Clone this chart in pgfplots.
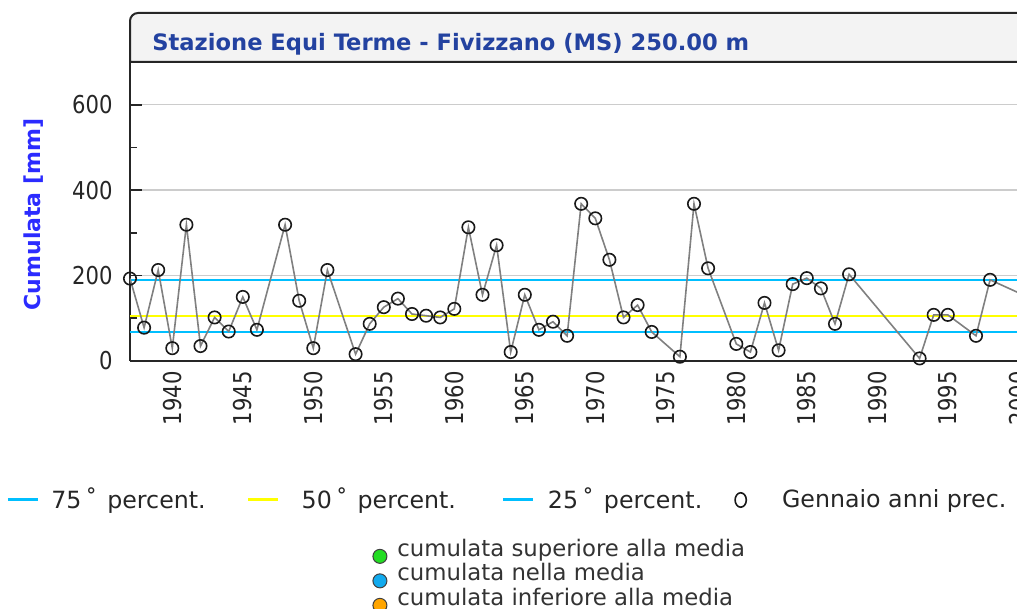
\documentclass[border=0pt]{standalone}
\usepackage{fontspec}
\usepackage{pgfplots}
\pgfplotsset{compat=1.18}
\setmainfont{DejaVu Sans}
\newfontfamily\tickfont{DejaVu Sans}[FakeStretch=0.86]
\definecolor{pcyan}{HTML}{00BFFF}
\definecolor{pyellow}{HTML}{FFFF00}
\definecolor{titleblue}{HTML}{2342A0}
\definecolor{labblue}{HTML}{2B2BFF}
\definecolor{boxgray}{HTML}{F3F3F3}
\definecolor{mgreen}{HTML}{22DD22}
\definecolor{mblue}{HTML}{11AAEE}
\definecolor{morange}{HTML}{FFA500}

\begin{document}
\begin{tikzpicture}
\useasboundingbox (0,0) rectangle (508.5pt,304.5pt);
\clip (0,0) rectangle (508.5pt,304.5pt);

\begin{axis}[
  at={(65pt,124pt)}, anchor=south west,
  scale only axis, width=514.65pt, height=149.5pt,
  xmin=1937, xmax=2010, ymin=0, ymax=700,
  axis x line=bottom, axis y line=left,
  axis line style={-, line width=1pt, black!85},
  xtick={1940,1945,...,2000},
  ytick={0,200,400,600}, minor ytick={100,300,500},
  tick align=inside,
  major tick length=6pt, minor tick length=3.5pt,
  xtick style={draw=none},
  ytick style={line width=0.8pt, black!85},
  ymajorgrids, grid style={line width=0.75pt, gray!40},
  tick label style={font=\tickfont\fontsize{12.3}{14}\selectfont, text=black!85},
  x tick label style={rotate=90, anchor=east, inner xsep=5pt, inner ysep=0pt},
  y tick label style={inner xsep=8.5pt, inner ysep=0pt},
  /pgf/number format/assume math mode=true,
  /pgf/number format/1000 sep={},
  ylabel={Cumulata [mm]},
  ylabel style={at={(axis description cs:-0.0874,0.49)}, anchor=base,
    font=\bfseries\fontsize{11}{13}\selectfont, text=labblue},
  legend columns=4,
  legend cell align=left,
  legend style={at={(axis description cs:-0.1205,-0.4649)}, anchor=west,
    draw=none, fill=none, inner sep=0pt,
    font=\fontsize{11.85}{13}\selectfont, text=black!85,
    nodes={inner sep=0pt},
    /tikz/column 1/.style={column sep=6pt},
    /tikz/column 2/.style={column sep=20.5pt},
    /tikz/column 3/.style={column sep=11pt},
    /tikz/column 4/.style={column sep=23pt},
    /tikz/column 5/.style={column sep=6.5pt},
    /tikz/column 6/.style={column sep=16pt},
    /tikz/column 7/.style={column sep=17.5pt}},
]
\addplot[pcyan, line width=1pt,
  legend image code/.code={\draw[pcyan, line width=1.5pt] (0pt,0pt) -- (15pt,0pt);}]
  coordinates {(1937,190) (2010,190)};
\addlegendentry{75\hspace{2pt}˚\hspace{5pt}percent.}
\addplot[pyellow, line width=1pt,
  legend image code/.code={\draw[pyellow, line width=1.5pt] (0pt,0pt) -- (15pt,0pt);}]
  coordinates {(1937,106) (2010,106)};
\addlegendentry{50\hspace{2pt}˚\hspace{5pt}percent.}
\addplot[pcyan, line width=1pt,
  legend image code/.code={\draw[pcyan, line width=1.5pt] (0pt,0pt) -- (15pt,0pt);}]
  coordinates {(1937,68) (2010,68)};
\addlegendentry{25\hspace{2pt}˚\hspace{5pt}percent.}
\addplot[color=gray, line width=0.8pt, mark=o, mark size=3.1pt,
  mark options={draw=black!90, line width=0.8pt, solid},
  legend image code/.code={\draw[black!90, line width=0.8pt] (0pt,0pt) ellipse (2.8pt and 3.6pt);}]
  coordinates {
  (1937,193)(1938,78)(1939,213)(1940,30)(1941,319)(1942,35)(1943,102)
  (1944,69)(1945,150)(1946,73)(1948,319)(1949,141)(1950,30)(1951,213)
  (1953,16)(1954,87)(1955,126)(1956,146)(1957,110)(1958,106)(1959,102)
  (1960,122)(1961,313)(1962,155)(1963,271)(1964,21)(1965,155)(1966,73)
  (1967,92)(1968,59)(1969,368)(1970,334)(1971,237)(1972,102)(1973,131)
  (1974,68)(1976,10)(1977,368)(1978,217)(1980,40)(1981,21)(1982,136)
  (1983,25)(1984,180)(1985,194)(1986,170)(1987,87)(1988,203)(1993,6)
  (1994,108)(1995,108)(1997,59)(1998,190)(2001,145)};
\addlegendentry{Gennaio anni prec.}
\end{axis}

% title box
\draw[line width=1pt, black!85, fill=boxgray]
  (65pt,273.5pt) -- (65pt,294pt) arc[start angle=180, end angle=90, radius=4pt]
  -- (520pt,298pt) -- (520pt,273.5pt) -- cycle;
\node[anchor=base west, inner sep=0pt, text=titleblue,
  font=\bfseries\fontsize{11.3}{13}\selectfont] at (76pt,279pt)
  {Stazione Equi Terme - Fivizzano (MS) 250.00 m};

% second legend
\begin{axis}[
  at={(0pt,0pt)}, anchor=south west,
  scale only axis, width=508.5pt, height=304.5pt,
  hide axis, xmin=0, xmax=1, ymin=0, ymax=1,
  legend cell align=left,
  legend style={at={(axis description cs:0.3658,0.1150)}, anchor=north west,
    draw=none, fill=none, inner sep=0pt, row sep=0pt,
    font=\fontsize{11.4}{12}\selectfont, text=black!80,
    nodes={inner ysep=0pt, text height=8.5pt, text depth=3.5pt},
    /tikz/column 1/.style={column sep=3pt}},
]
\addlegendimage{legend image code/.code={\draw[black!75, fill=mgreen, line width=0.5pt] (3.5pt,-2.5pt) circle (3.5pt);}}
\addlegendentry{cumulata superiore alla media}
\addlegendimage{legend image code/.code={\draw[black!75, fill=mblue, line width=0.5pt] (3.5pt,-2.5pt) circle (3.5pt);}}
\addlegendentry{cumulata nella media}
\addlegendimage{legend image code/.code={\draw[black!75, fill=morange, line width=0.5pt] (3.5pt,-2.5pt) circle (3.5pt);}}
\addlegendentry{cumulata inferiore alla media}
\end{axis}
\end{tikzpicture}
\end{document}
